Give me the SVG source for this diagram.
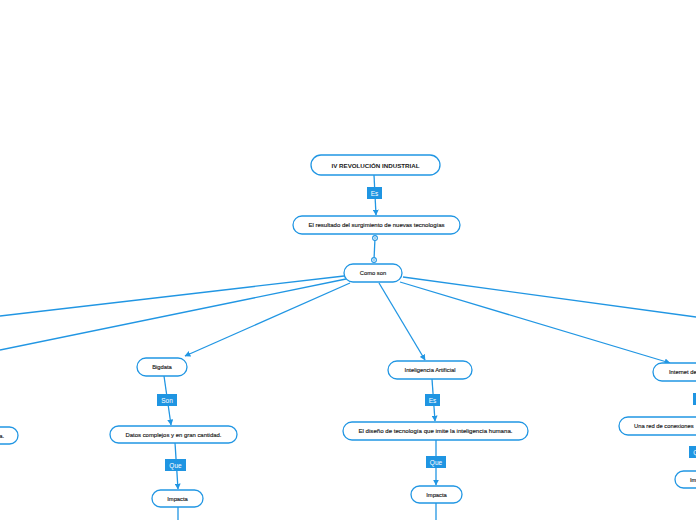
<svg xmlns="http://www.w3.org/2000/svg" width="696" height="520" viewBox="0 0 696 520">
<style>
.n rect{fill:#fff;stroke:#2196e3;stroke-width:1.3}
.n text{font-family:"Liberation Sans",Arial,sans-serif;font-size:5.8px;fill:#1a1a1a;stroke:#1a1a1a;stroke-width:0.15;text-anchor:middle;dominant-baseline:central}
.lb rect{fill:#1f95e2}
.lb text{font-family:"Liberation Sans",Arial,sans-serif;font-size:6.5px;fill:#fff;text-anchor:middle;dominant-baseline:central}
.c line{stroke:#2196e3;stroke-width:1.3;fill:none}
</style>
<defs>
<marker id="ah" viewBox="0 0 10 10" refX="9" refY="5" markerWidth="6" markerHeight="6" markerUnits="userSpaceOnUse" orient="auto">
<path d="M0,0 L10,5 L0,10 z" fill="#2196e3"/>
</marker>
</defs>
<rect width="696" height="520" fill="#fff"/>
<g id="connectors" class="c">
<line x1="374" y1="175" x2="376" y2="215" marker-end="url(#ah)"/>
<line x1="375" y1="238" x2="374" y2="260"/>
<line x1="344" y1="276" x2="0" y2="316"/>
<line x1="346" y1="279" x2="0" y2="350"/>
<line x1="350" y1="283" x2="185" y2="356" marker-end="url(#ah)"/>
<line x1="379" y1="283" x2="425" y2="360" marker-end="url(#ah)"/>
<line x1="400" y1="282" x2="670" y2="363" marker-end="url(#ah)"/>
<line x1="403" y1="277" x2="696" y2="317"/>
<line x1="164" y1="376" x2="171" y2="425" marker-end="url(#ah)"/>
<line x1="175" y1="443" x2="178" y2="489" marker-end="url(#ah)"/>
<line x1="178" y1="507" x2="178" y2="520"/>
<line x1="432" y1="379" x2="435" y2="421" marker-end="url(#ah)"/>
<line x1="436" y1="440" x2="436" y2="485" marker-end="url(#ah)"/>
<line x1="436" y1="503" x2="436" y2="520"/>
<line x1="700" y1="381" x2="700" y2="416" marker-end="url(#ah)"/>
<line x1="700" y1="435" x2="700" y2="470" marker-end="url(#ah)"/>
<circle cx="375" cy="238" r="2.4" fill="#fff" stroke="#2196e3" stroke-width="1.1"/>
<circle cx="375" cy="238" r="0.8" fill="#2196e3"/>
<circle cx="374" cy="260" r="2.4" fill="#fff" stroke="#2196e3" stroke-width="1.1"/>
<circle cx="374" cy="260" r="0.8" fill="#2196e3"/>
</g>
<g id="labels">
<g class="lb"><rect x="367" y="187" width="15" height="12"/><text x="374.5" y="193">Es</text></g>
<g class="lb"><rect x="157" y="394" width="20" height="12"/><text x="167" y="400">Son</text></g>
<g class="lb"><rect x="165" y="459" width="21" height="12"/><text x="175.5" y="465">Que</text></g>
<g class="lb"><rect x="425" y="394" width="15" height="12"/><text x="432.5" y="400">Es</text></g>
<g class="lb"><rect x="426" y="456" width="20" height="12"/><text x="436" y="462">Que</text></g>
<g class="lb"><rect x="693" y="393" width="15" height="12"/><text x="700.5" y="399">Es</text></g>
<g class="lb"><rect x="689" y="446" width="21" height="12"/><text x="699.5" y="452">Que</text></g>
</g>
<g id="n-title" class="n"><rect x="311" y="155" width="129" height="20" rx="10"/><text x="375.5" y="165" font-weight="bold" style="font-size:6.2px;stroke-width:0">IV REVOLUCIÓN INDUSTRIAL</text></g>
<g id="n-resultado" class="n"><rect x="293" y="216" width="167" height="18" rx="9"/><text x="376.5" y="225" textLength="136" lengthAdjust="spacingAndGlyphs">El resultado del surgimiento de nuevas tecnologías</text></g>
<g id="n-comoson" class="n"><rect x="344" y="264" width="58" height="18" rx="9"/><text x="373" y="273">Como son</text></g>
<g id="n-left" class="n"><rect x="-60" y="427" width="78" height="17" rx="8.5"/><text x="4" y="435.5" style="text-anchor:end">a.</text></g>
<g id="n-bigdata" class="n"><rect x="137" y="358" width="50" height="18" rx="9"/><text x="162" y="367">Bigdata</text></g>
<g id="n-datos" class="n"><rect x="110" y="426" width="127" height="17" rx="8.5"/><text x="173.5" y="434.5" textLength="96" lengthAdjust="spacingAndGlyphs">Datos complejos y en gran cantidad.</text></g>
<g id="n-impacta1" class="n"><rect x="152" y="490" width="51" height="17" rx="8.5"/><text x="177.5" y="498.5">Impacta</text></g>
<g id="n-ia" class="n"><rect x="388" y="361" width="84" height="18" rx="9"/><text x="430" y="370">Inteligencia Artificial</text></g>
<g id="n-diseno" class="n"><rect x="343" y="422" width="185" height="18" rx="9"/><text x="435.5" y="431" textLength="154" lengthAdjust="spacingAndGlyphs">El diseño de tecnología que imite la inteligencia humana.</text></g>
<g id="n-impacta2" class="n"><rect x="411" y="486" width="51" height="17" rx="8.5"/><text x="436.5" y="494.5">Impacta</text></g>
<g id="n-internet" class="n"><rect x="653" y="363" width="100" height="18" rx="9"/><text x="669" y="372" style="text-anchor:start">Internet de las cosas</text></g>
<g id="n-unared" class="n"><rect x="619" y="417" width="160" height="18" rx="9"/><text x="634" y="426" style="text-anchor:start">Una red de conexiones</text></g>
<g id="n-impacta3" class="n"><rect x="675" y="471" width="60" height="17" rx="8.5"/><text x="690" y="479.5" style="text-anchor:start">Impacta</text></g>
</svg>
